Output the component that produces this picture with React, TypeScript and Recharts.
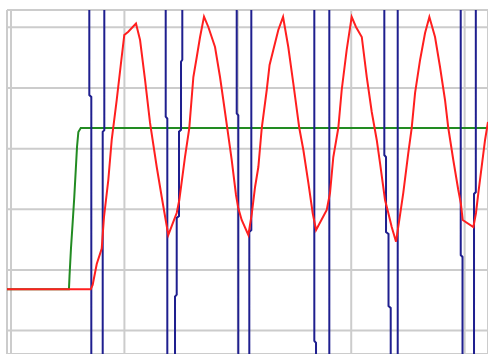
import { CartesianGrid, Line, LineChart, XAxis, YAxis } from "recharts";

// time axis: grid every 10 units; value axis: grid every 10 units
const timeTicks = [0, 10, 20, 30, 40];
const valueTicks = [0, 10, 20, 30, 40, 50];

// setpoint (green step)
const setpoint: [number, number][] = [
  [-0.35, 6.81], [5.11, 6.81], [5.16, 9.0], [5.29, 13.62], [5.44, 17.91],
  [5.58, 22.03], [5.71, 26.48], [5.82, 30.27], [5.94, 32.75], [6.15, 33.4],
  [42.06, 33.4],
];

// process response (red)
const response: [number, number][] = [
  [-0.35, 6.81], [7.03, 6.81], [7.2, 7.52], [7.56, 10.98], [8.0, 13.54],
  [8.2, 18.73], [8.58, 24.83], [8.88, 31.43], [9.32, 38.02], [9.76, 45.11],
  [9.99, 48.74], [10.34, 49.28], [11.02, 50.63],
  [11.38, 47.91], [11.82, 41.32], [12.26, 34.23], [12.85, 26.97], [13.29, 22.03],
  [13.67, 17.91], [13.87, 15.76],
  [14.31, 17.91], [14.61, 19.39], [14.84, 21.53], [15.34, 28.62], [15.72, 33.4],
  [16.08, 41.81], [16.38, 45.11], [16.67, 48.41], [17.02, 51.76],
  [17.4, 50.06], [17.99, 46.76], [18.43, 41.81], [18.72, 38.02], [19.07, 33.4],
  [19.46, 28.13], [19.84, 22.36], [20.04, 20.21], [20.34, 18.24], [20.93, 15.76],
  [21.23, 19.23], [21.52, 23.68], [21.81, 26.97], [22.11, 33.4], [22.55, 39.67],
  [22.8, 43.79], [23.13, 46.27], [23.57, 49.56], [23.99, 51.71],
  [24.45, 46.76], [24.89, 40.82], [25.42, 33.4], [25.78, 29.78], [26.22, 24.34],
  [26.6, 19.39], [26.9, 16.59],
  [27.84, 19.88], [28.13, 22.69], [28.42, 28.62], [28.86, 33.4], [29.16, 39.67],
  [29.6, 46.27], [30.04, 51.71],
  [30.42, 50.06], [30.93, 48.41], [31.37, 41.81], [31.81, 36.04], [32.25, 31.43],
  [32.54, 27.63], [32.8, 24.01], [32.98, 21.53], [33.27, 19.39], [33.57, 17.08],
  [33.95, 14.66],
  [34.24, 18.24], [34.59, 22.69], [35.03, 29.28], [35.33, 33.4], [35.63, 39.18],
  [36.07, 44.62], [36.51, 49.07], [36.89, 51.71],
  [37.39, 48.41], [37.83, 43.46], [38.27, 38.02], [38.56, 33.4], [39.0, 28.13],
  [39.44, 23.18], [39.66, 21.04], [39.83, 18.24], [40.77, 17.08],
  [41.0, 19.39], [41.21, 22.69], [41.8, 31.43], [42.06, 34.39],
];

// controller output (blue), swings far beyond the visible range
const HI = 70;
const LO = -15;
const control: [number, number][] = [
  [6.905, HI], [6.905, 38.85], [7.081, 38.52], [7.081, LO],
  [8.086, LO], [8.086, 32.75], [8.227, 33.07], [8.227, HI],
  [13.641, HI], [13.641, 35.27], [13.783, 34.94], [13.783, LO],
  [14.462, LO], [14.462, 5.59], [14.611, 5.92], [14.611, 18.57], [14.814, 18.9],
  [14.814, 32.79], [14.991, 33.12], [14.991, 44.34], [15.105, 44.67], [15.105, HI],
  [19.902, HI], [19.902, 35.83], [20.044, 35.5], [20.044, LO],
  [21.013, LO], [21.013, 16.26], [21.19, 16.59], [21.19, HI],
  [26.745, HI], [26.745, -1.71], [26.895, -2.04], [26.895, LO],
  [28.068, LO], [28.068, HI],
  [32.918, HI], [32.918, 28.95], [33.068, 28.62], [33.068, 16.26], [33.288, 15.93],
  [33.288, 4.06], [33.482, 3.73], [33.482, LO],
  [34.099, LO], [34.099, HI],
  [39.655, HI], [39.655, 12.46], [39.813, 12.14], [39.813, LO],
  [40.827, LO], [40.827, 22.52], [40.986, 22.85], [40.986, HI],
];

const toRows = (pts: [number, number][]) => pts.map(([t, v]) => ({ t, v }));

export default function App() {
  return (
    <div
      style={{
        position: "absolute",
        left: 0,
        top: 0,
        width: 488,
        height: 354,
        background: "#ffffff",
      }}
    >
      <LineChart
        width={488}
        height={354}
        margin={{ top: 10, right: 0, bottom: 0, left: 7 }}
      >
        <CartesianGrid stroke="#cccccc" strokeWidth={2} />
        <XAxis
          dataKey="t"
          type="number"
          domain={[-0.353, 42.06]}
          ticks={timeTicks}
          allowDataOverflow
          hide
        />
        <YAxis
          type="number"
          domain={[-3.86, 52.86]}
          ticks={valueTicks}
          allowDataOverflow
          hide
        />
        <Line
          data={toRows(setpoint)}
          dataKey="v"
          type="linear"
          stroke="#228b22"
          strokeWidth={2}
          dot={false}
          activeDot={false}
          isAnimationActive={false}
        />
        <Line
          data={toRows(control)}
          dataKey="v"
          type="linear"
          stroke="#1f1f8f"
          strokeWidth={2}
          dot={false}
          activeDot={false}
          isAnimationActive={false}
        />
        <Line
          data={toRows(response)}
          dataKey="v"
          type="linear"
          stroke="#ff1f1f"
          strokeWidth={2}
          dot={false}
          activeDot={false}
          isAnimationActive={false}
        />
      </LineChart>
    </div>
  );
}
